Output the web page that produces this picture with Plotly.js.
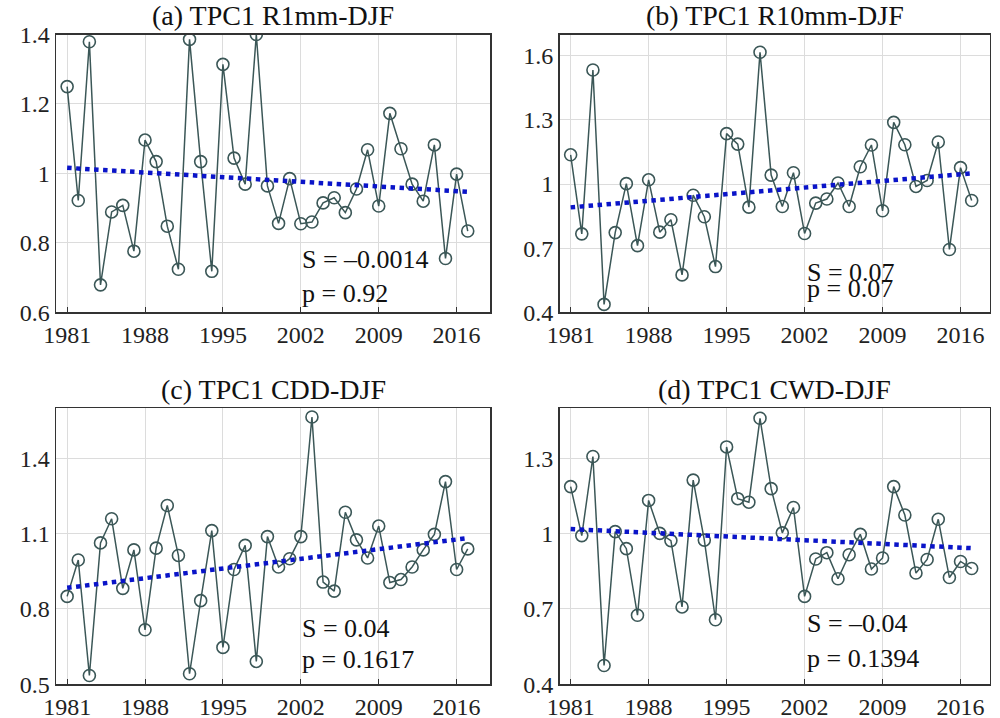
<!DOCTYPE html>
<html>
<head>
<meta charset="utf-8">
<script src="https://cdn.plot.ly/plotly-3.0.1.min.js"></script>
<style>html,body{margin:0;padding:0;background:#fff}#chart{width:1000px;height:718px}</style>
</head>
<body>
<div id="chart"></div>
<script>
const years = [1981,1982,1983,1984,1985,1986,1987,1988,1989,1990,1991,1992,1993,1994,1995,1996,1997,1998,1999,2000,2001,2002,2003,2004,2005,2006,2007,2008,2009,2010,2011,2012,2013,2014,2015,2016,2017];
const trendYears = [1981, 2017];

const r1mm = [1.250,0.922,1.379,0.679,0.889,0.908,0.776,1.096,1.034,0.848,0.724,1.386,1.034,0.718,1.314,1.044,0.969,1.40,0.964,0.856,0.985,0.855,0.860,0.915,0.930,0.887,0.955,1.068,0.906,1.173,1.071,0.969,0.920,1.082,0.755,0.998,0.834];
const r1mmTrend = [1.016, 0.947];

const r10mm = [1.137,0.767,1.534,0.437,0.773,1.002,0.712,1.020,0.775,0.833,0.575,0.948,0.847,0.614,1.236,1.187,0.892,1.617,1.042,0.895,1.053,0.769,0.911,0.930,1.005,0.895,1.081,1.183,0.875,1.289,1.184,0.989,1.017,1.197,0.694,1.077,0.923];
const r10mmTrend = [0.891, 1.050];

const cdd = [0.850,0.995,0.535,1.063,1.159,0.882,1.035,0.717,1.042,1.212,1.013,0.542,0.833,1.112,0.647,0.957,1.053,0.591,1.088,0.967,1.000,1.088,1.564,0.907,0.871,1.185,1.075,1.003,1.130,0.905,0.917,0.967,1.035,1.097,1.307,0.957,1.039];
const cddTrend = [0.884, 1.082];

const cwd = [1.187,0.992,1.307,0.475,1.008,0.940,0.675,1.132,1.001,0.972,0.708,1.213,0.974,0.657,1.345,1.139,1.125,1.459,1.179,1.003,1.104,0.750,0.899,0.924,0.820,0.916,0.997,0.859,0.903,1.187,1.074,0.843,0.897,1.057,0.825,0.889,0.861];
const cwdTrend = [1.018, 0.942];

const titles = ["(a) TPC1 R1mm-DJF", "(b) TPC1 R10mm-DJF", "(c) TPC1 CDD-DJF", "(d) TPC1 CWD-DJF"];
const sLabels = ["S = \u20130.0014", "S = 0.07", "S = 0.04", "S = \u20130.04"];
const pLabels = ["p = 0.92", "p = 0.07", "p = 0.1617", "p = 0.1394"];
const xTicks = [1981, 1988, 1995, 2002, 2009, 2016];
const yTicksA = [0.6, 0.8, 1, 1.2, 1.4];
const yTicksB = [0.4, 0.7, 1, 1.3, 1.6];
const yTicksC = [0.5, 0.8, 1.1, 1.4];
const yTicksD = [0.4, 0.7, 1, 1.3];

const series = [r1mm, r10mm, cdd, cwd];
const trends = [r1mmTrend, r10mmTrend, cddTrend, cwdTrend];
const yTicks = [yTicksA, yTicksB, yTicksC, yTicksD];
const yRanges = [[0.6, 1.4], [0.4, 1.7], [0.5, 1.6], [0.4, 1.5]];
const xRanges = [[1980, 2019], [1980, 2018.6], [1980, 2019], [1980, 2018.6]];

const W = 1000, H = 718;
const xDom = [[56, 490], [559.5, 989.5], [56, 490], [559.5, 989.5]];
const yDom = [[34.5, 312.3], [34.5, 312.3], [408, 684.3], [408, 684.3]];

const lineColor = '#3b5757';
const font = "'Liberation Serif', serif";

const traces = [];
const layout = {
  width: W, height: H,
  margin: {l: 0, r: 0, t: 0, b: 0},
  paper_bgcolor: '#fff', plot_bgcolor: '#fff',
  showlegend: false,
  font: {family: font, size: 24, color: '#222'},
  annotations: []
};

for (let i = 0; i < 4; i++) {
  const xa = i === 0 ? 'x' : 'x' + (i + 1);
  const ya = i === 0 ? 'y' : 'y' + (i + 1);
  traces.push({
    x: years, y: series[i], xaxis: xa, yaxis: ya, type: 'scatter', mode: 'lines+markers',
    line: {color: lineColor, width: 1.5},
    marker: {symbol: 'circle-open', size: 12, color: lineColor, line: {width: 1.6, color: lineColor}}
  });
  traces.push({
    x: trendYears, y: trends[i], xaxis: xa, yaxis: ya, type: 'scatter', mode: 'lines',
    line: {color: '#0a14c8', width: 4.5, dash: 'dot'}
  });
  const axX = {
    domain: [xDom[i][0] / W, xDom[i][1] / W],
    range: xRanges[i], tickvals: xTicks, ticktext: xTicks.map(String),
    showgrid: true, gridcolor: '#dcdcdc', gridwidth: 1,
    showline: true, mirror: true, linecolor: '#333', linewidth: 1.5,
    ticks: 'inside', ticklen: 5, tickcolor: '#333', tickwidth: 1,
    zeroline: false, anchor: ya,
    tickfont: {family: font, size: 24, color: '#222'}
  };
  const axY = {
    domain: [1 - yDom[i][1] / H, 1 - yDom[i][0] / H],
    range: yRanges[i], tickvals: yTicks[i], ticktext: yTicks[i].map(String),
    showgrid: true, gridcolor: '#dcdcdc', gridwidth: 1,
    showline: true, mirror: true, linecolor: '#333', linewidth: 1.5,
    ticks: '', zeroline: false, anchor: xa,
    tickfont: {family: font, size: 24, color: '#222'}
  };
  layout[i === 0 ? 'xaxis' : 'xaxis' + (i + 1)] = axX;
  layout[i === 0 ? 'yaxis' : 'yaxis' + (i + 1)] = axY;

  const cx = (xDom[i][0] + xDom[i][1]) / 2 / W;
  layout.annotations.push({
    text: titles[i], xref: 'paper', yref: 'paper', x: cx, y: 1 - (yDom[i][0] - 1) / H,
    xanchor: 'center', yanchor: 'bottom', showarrow: false,
    font: {family: font, size: 28, color: '#111'}
  });
}

// S / p annotation positions (pixels)
const textPos = [
  {x: 300, sy: 259, py: 293},
  {x: 805, sy: 272, py: 289},
  {x: 300, sy: 628, py: 659},
  {x: 805, sy: 623, py: 658}
];
for (let i = 0; i < 4; i++) {
  layout.annotations.push({
    text: sLabels[i], xref: 'paper', yref: 'paper', x: textPos[i].x / W, y: 1 - textPos[i].sy / H,
    xanchor: 'left', yanchor: 'middle', showarrow: false,
    font: {family: font, size: 26, color: '#111'}
  });
  layout.annotations.push({
    text: pLabels[i], xref: 'paper', yref: 'paper', x: textPos[i].x / W, y: 1 - textPos[i].py / H,
    xanchor: 'left', yanchor: 'middle', showarrow: false,
    font: {family: font, size: 26, color: '#111'}
  });
}

Plotly.newPlot('chart', traces, layout, {staticPlot: true, displayModeBar: false});
</script>
</body>
</html>
